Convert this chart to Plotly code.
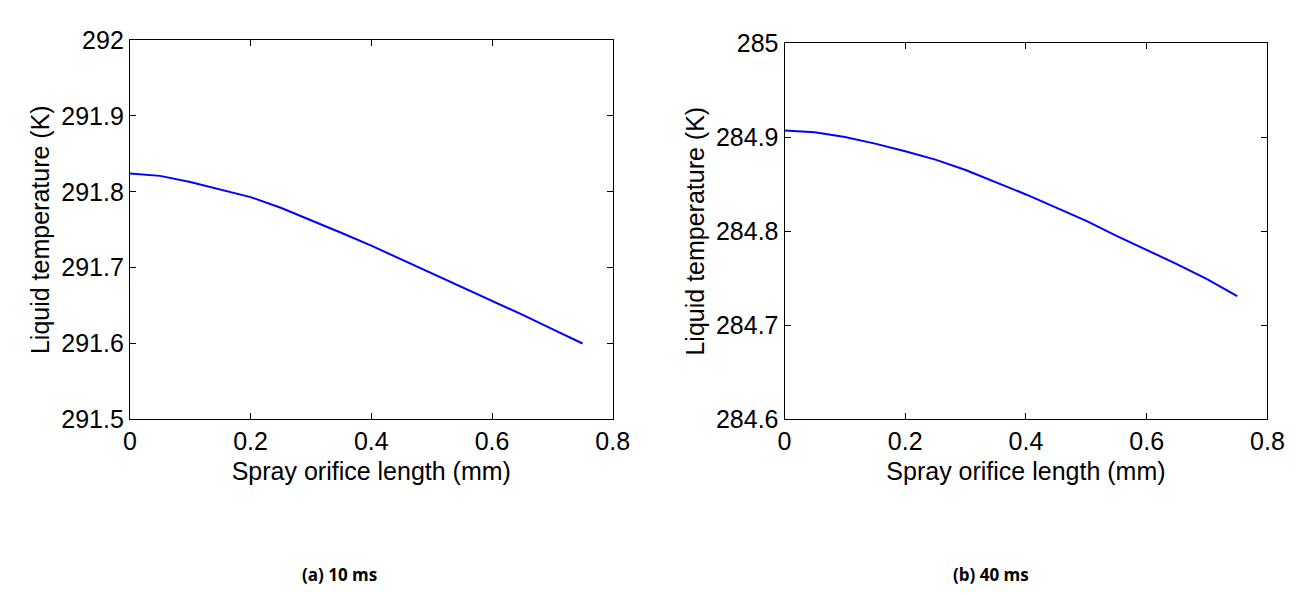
import plotly.graph_objects as go

# Data
x_len = [0.0, 0.05, 0.10, 0.15, 0.20, 0.25, 0.30, 0.35, 0.40, 0.45, 0.50, 0.55, 0.60, 0.65, 0.70, 0.75]
temp_10ms = [291.824, 291.821, 291.813, 291.803, 291.793, 291.779, 291.763, 291.746, 291.729,
             291.711, 291.693, 291.675, 291.656, 291.638, 291.619, 291.600]
temp_40ms = [284.907, 284.905, 284.900, 284.893, 284.885, 284.876, 284.865, 284.852, 284.839,
             284.825, 284.811, 284.795, 284.780, 284.765, 284.749, 284.731]

x_ticks = [0, 0.2, 0.4, 0.6, 0.8]
x_ticklabels = ["0", "0.2", "0.4", "0.6", "0.8"]
y_ticks_a = [291.5, 291.6, 291.7, 291.8, 291.9, 292.0]
y_ticklabels_a = ["291.5", "291.6", "291.7", "291.8", "291.9", "292"]
y_ticks_b = [284.6, 284.7, 284.8, 284.9, 285.0]
y_ticklabels_b = ["284.6", "284.7", "284.8", "284.9", "285"]

x_title = "Spray orifice length (mm)"
y_title = "Liquid temperature (K)"
captions = ["(a) 10 ms", "(b) 40 ms"]

W, H = 1298, 594
FONT = "Liberation Sans, Arial, sans-serif"
FS = 25

fig = go.Figure()
fig.add_trace(go.Scatter(x=x_len, y=temp_10ms, mode="lines",
                         line=dict(color="#0000ff", width=2), xaxis="x", yaxis="y",
                         showlegend=False))
fig.add_trace(go.Scatter(x=x_len, y=temp_40ms, mode="lines",
                         line=dict(color="#0000ff", width=2), xaxis="x2", yaxis="y2",
                         showlegend=False))

def px_x(a, b):
    return [a / W, b / W]

def px_y(top, bottom):
    return [(H - bottom) / H, (H - top) / H]

axis_common = dict(showline=True, linecolor="black", linewidth=1, mirror="ticks",
                   ticks="inside", ticklen=6, tickwidth=1, tickcolor="black",
                   showgrid=False, zeroline=False,
                   tickfont=dict(family=FONT, size=FS, color="black"))

fig.update_layout(
    width=W, height=H,
    margin=dict(l=0, r=0, t=0, b=0),
    paper_bgcolor="white", plot_bgcolor="white",
    font=dict(family=FONT, size=FS, color="black"),
    xaxis=dict(domain=px_x(117, 609), range=[0, 0.8], tickvals=x_ticks, ticktext=x_ticklabels,
               anchor="y", title=dict(text=x_title, standoff=8,
                                      font=dict(family=FONT, size=FS)), **axis_common),
    yaxis=dict(domain=px_y(19, 417), range=[291.5, 292.0], tickvals=y_ticks_a,
               ticktext=y_ticklabels_a, anchor="x",
               title=dict(text=y_title, standoff=4, font=dict(family=FONT, size=FS)),
               **axis_common),
    xaxis2=dict(domain=px_x(784, 1276), range=[0, 0.8], tickvals=x_ticks, ticktext=x_ticklabels,
                anchor="y2", title=dict(text=x_title, standoff=8,
                                        font=dict(family=FONT, size=FS)), **axis_common),
    yaxis2=dict(domain=px_y(22, 417), range=[284.6, 285.0], tickvals=y_ticks_b,
                ticktext=y_ticklabels_b, anchor="x2",
                title=dict(text=y_title, standoff=4, font=dict(family=FONT, size=FS)),
                **axis_common),
)

for cx, txt in zip([331 / W, 994 / W], captions):
    fig.add_annotation(text="<b>" + txt + "</b>", x=cx, y=(H - 580) / H, xref="paper",
                       yref="paper", showarrow=False, xanchor="center", yanchor="middle",
                       font=dict(family="Open Sans, sans-serif", size=17, color="black"))

fig.write_html("out.html")
